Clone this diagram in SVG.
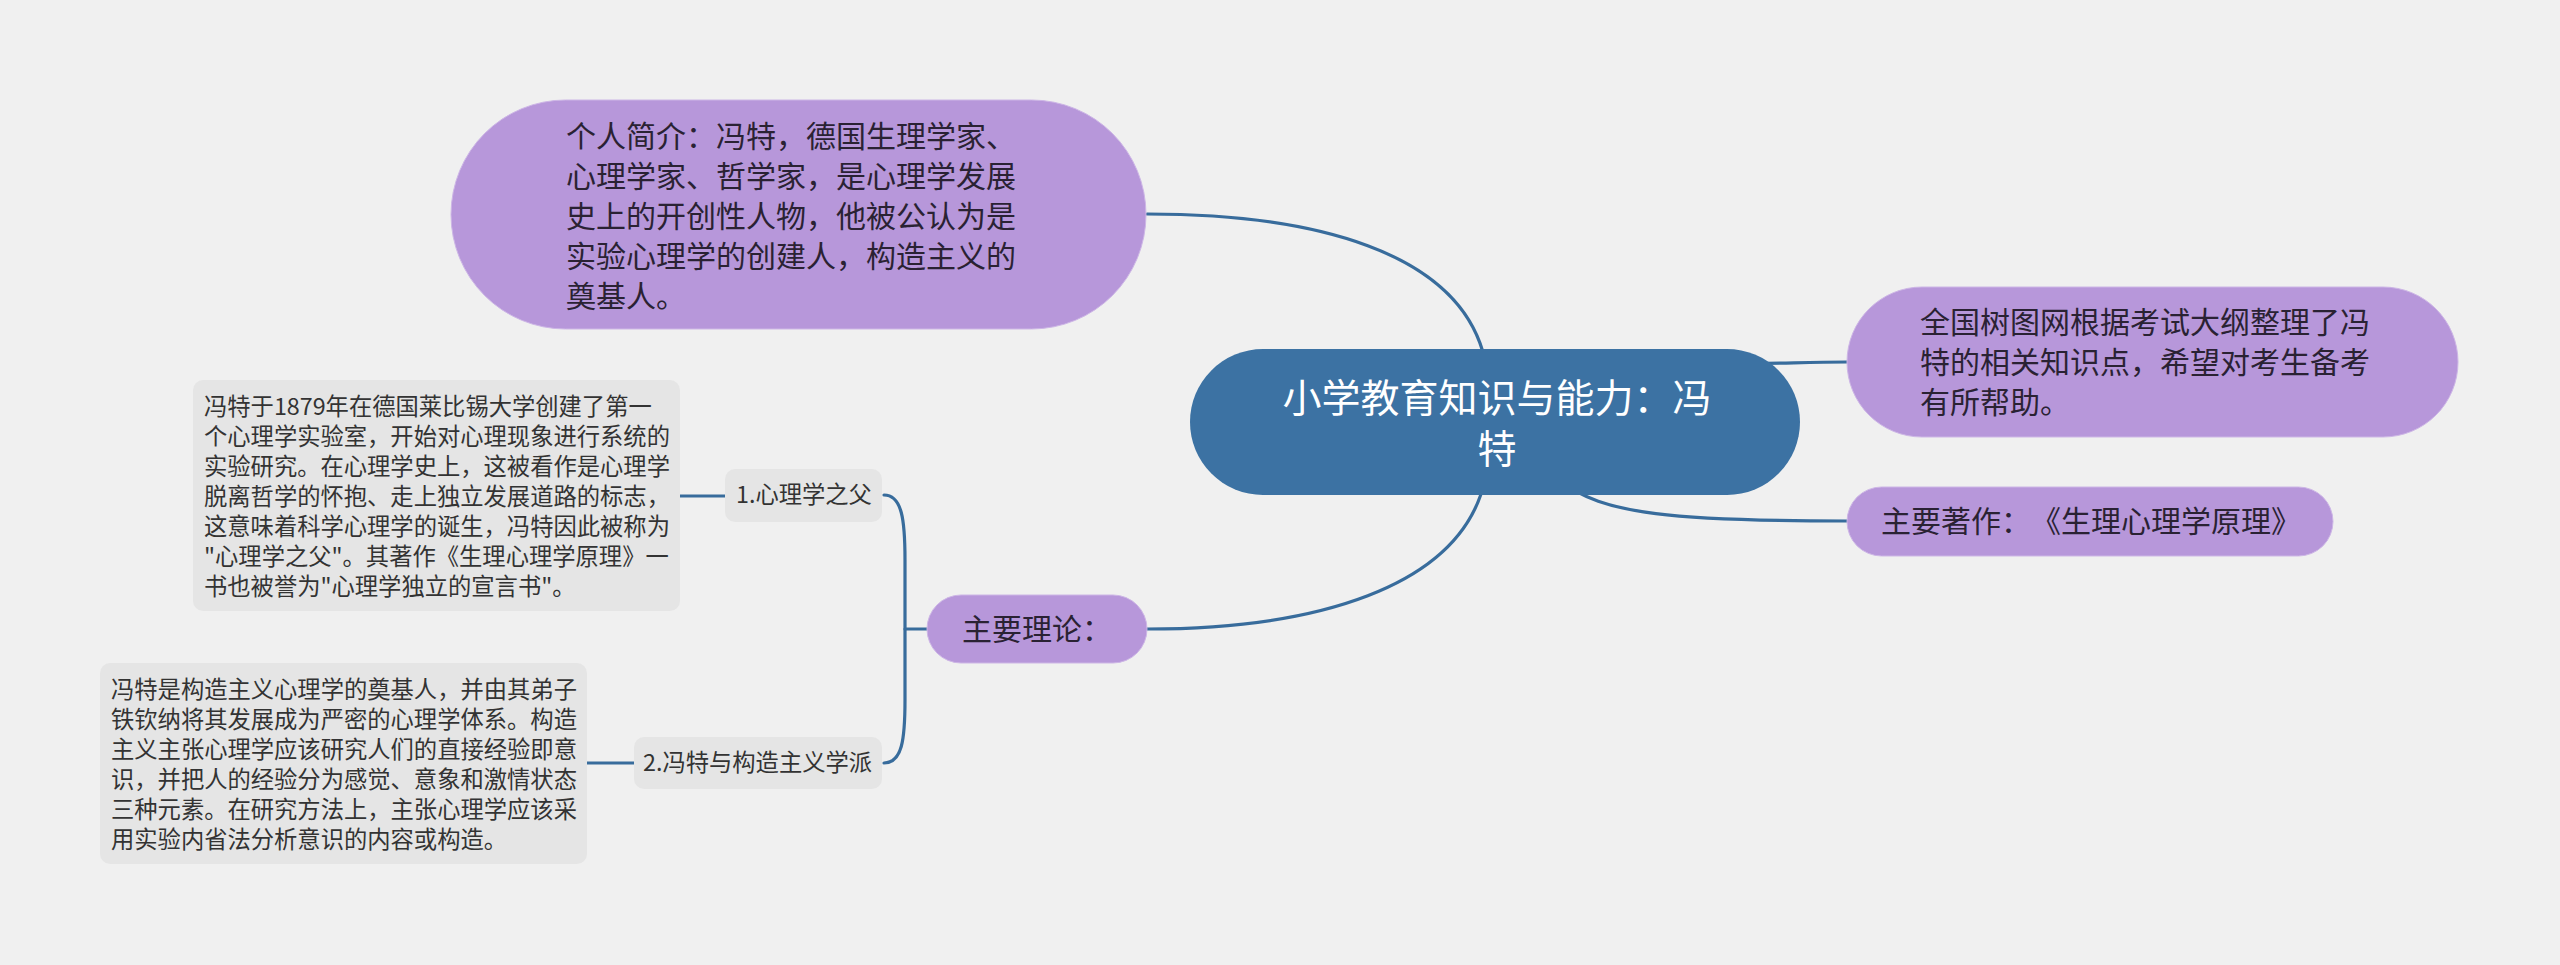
<svg xmlns="http://www.w3.org/2000/svg" width="2560" height="965" viewBox="0 0 2560 965">
<style>
.bg{fill:#f0f0f0}
.link{fill:none;stroke:#386c9c;stroke-width:3.2;stroke-linecap:round}
.root{fill:#3c72a3}
.main{fill:#b797da;stroke:#cdb6e6;stroke-width:1}
.sub{fill:#e5e5e5}
.leaf{fill:#e5e5e5}
text{font-family:"Noto Sans CJK SC","Noto Sans",sans-serif;text-spacing-trim:space-all;font-feature-settings:"chws" 0,"halt" 0}
.tr{fill:#ffffff;font-size:39px}
.tm{fill:#2a2233;font-size:30px}
.ts{fill:#333333;font-size:23.3px}
</style>
<rect class="bg" x="0" y="0" width="2560" height="965"/>
<g id="connectors">
<path class="link" d="M1147,214 C1310,214 1460,250 1485,360"/>
<path class="link" d="M1485,480 C1460,590 1310,629 1147,629"/>
<path class="link" d="M1700,364 C1780,364 1800,362 1847,362"/>
<path class="link" d="M1560,480 C1600,515 1680,521 1847,521"/>
<path class="link" d="M884,495 C902,495 905,520 905,560 L905,700 C905,740 902,763 884,763"/>
<path class="link" d="M905,629 L927,629"/>
<path class="link" d="M680,496 L725,496"/>
<path class="link" d="M587,763 L634,763"/>
</g>
<g id="root">
<rect class="root" x="1190" y="349" width="610" height="146" rx="73"/>
<text class="tr" text-anchor="middle"><tspan x="1497" y="412">小学教育知识与能力：冯</tspan><tspan x="1497" y="463">特</tspan></text>
</g>
<g id="intro">
<rect class="main" x="451" y="100" width="695" height="229" rx="114.5"/>
<text class="tm"><tspan x="566" y="147">个人简介：冯特，德国生理学家、</tspan><tspan x="566" y="187">心理学家、哲学家，是心理学发展</tspan><tspan x="566" y="227">史上的开创性人物，他被公认为是</tspan><tspan x="566" y="267">实验心理学的创建人，构造主义的</tspan><tspan x="566" y="307">奠基人。</tspan></text>
</g>
<g id="note">
<rect class="main" x="1847" y="287" width="611" height="150" rx="75"/>
<text class="tm"><tspan x="1920" y="333">全国树图网根据考试大纲整理了冯</tspan><tspan x="1920" y="373">特的相关知识点，希望对考生备考</tspan><tspan x="1920" y="413">有所帮助。</tspan></text>
</g>
<g id="works">
<rect class="main" x="1847" y="487" width="486" height="69" rx="34.5"/>
<text class="tm" x="1881" y="532">主要著作：《生理心理学原理》</text>
</g>
<g id="theory">
<rect class="main" x="927" y="595" width="220" height="68" rx="34"/>
<text class="tm" x="962" y="640">主要理论：</text>
</g>
<g id="father">
<rect class="sub" x="725" y="469" width="157" height="53" rx="10"/>
<text class="ts" x="736" y="503">1.心理学之父</text>
</g>
<g id="father-detail">
<rect class="leaf" x="193" y="380" width="487" height="231" rx="10"/>
<text class="ts"><tspan x="204" y="415">冯特于1879年在德国莱比锡大学创建了第一</tspan><tspan x="204" y="445">个心理学实验室，开始对心理现象进行系统的</tspan><tspan x="204" y="475">实验研究。在心理学史上，这被看作是心理学</tspan><tspan x="204" y="505">脱离哲学的怀抱、走上独立发展道路的标志，</tspan><tspan x="204" y="535">这意味着科学心理学的诞生，冯特因此被称为</tspan><tspan x="204" y="565">"心理学之父"。其著作《生理心理学原理》一</tspan><tspan x="204" y="595">书也被誉为"心理学独立的宣言书"。</tspan></text>
</g>
<g id="structuralism">
<rect class="sub" x="634" y="737" width="248" height="52" rx="10"/>
<text class="ts" x="643" y="771">2.冯特与构造主义学派</text>
</g>
<g id="structuralism-detail">
<rect class="leaf" x="100" y="663" width="487" height="201" rx="10"/>
<text class="ts"><tspan x="111" y="698">冯特是构造主义心理学的奠基人，并由其弟子</tspan><tspan x="111" y="728">铁钦纳将其发展成为严密的心理学体系。构造</tspan><tspan x="111" y="758">主义主张心理学应该研究人们的直接经验即意</tspan><tspan x="111" y="788">识，并把人的经验分为感觉、意象和激情状态</tspan><tspan x="111" y="818">三种元素。在研究方法上，主张心理学应该采</tspan><tspan x="111" y="848">用实验内省法分析意识的内容或构造。</tspan></text>
</g>
</svg>
